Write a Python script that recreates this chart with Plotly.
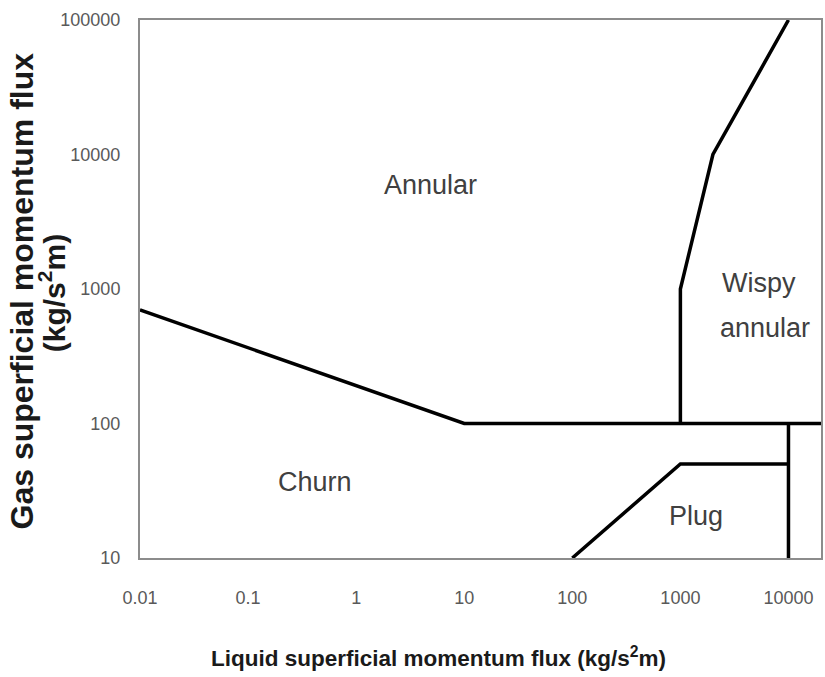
import numpy as np
import plotly.graph_objects as go

# Flow-regime boundaries (liquid momentum flux, gas momentum flux)
annular_churn_x = [0.01, 10, 20000]
annular_churn_y = [700, 100, 100]

wispy_x = [1000, 1000, 2000, 10000]
wispy_y = [100, 1000, 10000, 100000]

plug_x = [100, 1000, 10000]
plug_y = [10, 50, 50]

churn_right_x = [10000, 10000]
churn_right_y = [10, 100]

# Regime labels and their anchor points
regime_names = ["Annular", "Churn", "Plug", "Wispy", "annular"]
regime_x = [4.9, 0.42, 1380, 5360, 6080]
regime_y = [5900, 37, 20.5, 1110, 513]

x_ticks = [0.01, 0.1, 1, 10, 100, 1000, 10000]
x_ticklabels = ["0.01", "0.1", "1", "10", "100", "1000", "10000"]
y_ticks = [10, 100, 1000, 10000, 100000]
y_ticklabels = ["10", "100", "1000", "10000", "100000"]

FONT = "Liberation Sans, Arial, sans-serif"

fig = go.Figure()
for xs, ys in [(annular_churn_x, annular_churn_y), (wispy_x, wispy_y),
               (plug_x, plug_y), (churn_right_x, churn_right_y)]:
    fig.add_trace(go.Scatter(x=xs, y=ys, mode="lines",
                             line=dict(color="black", width=3.5),
                             showlegend=False, hoverinfo="skip"))

for name, xv, yv in zip(regime_names, regime_x, regime_y):
    fig.add_annotation(x=np.log10(xv), y=np.log10(yv), text=name,
                       showarrow=False, xref="x", yref="y",
                       font=dict(family=FONT, size=27, color="#404040"))

# Axis titles
fig.add_annotation(xref="paper", yref="paper", x=0.439, y=-0.184,
                   text="<b>Liquid superficial momentum flux (kg/s<sup>2</sup>m)</b>",
                   showarrow=False, xanchor="center", yanchor="middle",
                   font=dict(family=FONT, size=22.5, color="#1a1a1a"))
fig.add_annotation(xref="paper", yref="paper", x=-0.1728, y=0.496,
                   text="<b>Gas superficial momentum flux</b>",
                   showarrow=False, textangle=-90, xanchor="center", yanchor="middle",
                   font=dict(family=FONT, size=32, color="#1a1a1a"))
fig.add_annotation(xref="paper", yref="paper", x=-0.1288, y=0.4926,
                   text="<b>(kg/s<sup>2</sup>m)</b>",
                   showarrow=False, textangle=-90, xanchor="center", yanchor="middle",
                   font=dict(family=FONT, size=30, color="#1a1a1a"))

fig.update_xaxes(type="log", range=[-2, np.log10(20000)],
                 tickvals=x_ticks, ticktext=x_ticklabels,
                 showgrid=False, zeroline=False, ticks="",
                 showline=True, mirror=True, linecolor="#8c8c8c", linewidth=2,
                 tickfont=dict(family=FONT, size=18, color="#595959"),
                 ticklabelstandoff=22)
fig.update_yaxes(type="log", range=[1, 5],
                 tickvals=y_ticks, ticktext=y_ticklabels,
                 showgrid=False, zeroline=False, ticks="",
                 showline=True, mirror=True, linecolor="#8c8c8c", linewidth=2,
                 tickfont=dict(family=FONT, size=18, color="#595959"),
                 ticklabelstandoff=14)

fig.update_layout(width=825, height=677,
                  margin=dict(l=140, r=2, t=20, b=119),
                  plot_bgcolor="white", paper_bgcolor="white")

fig.write_html("out.html")
